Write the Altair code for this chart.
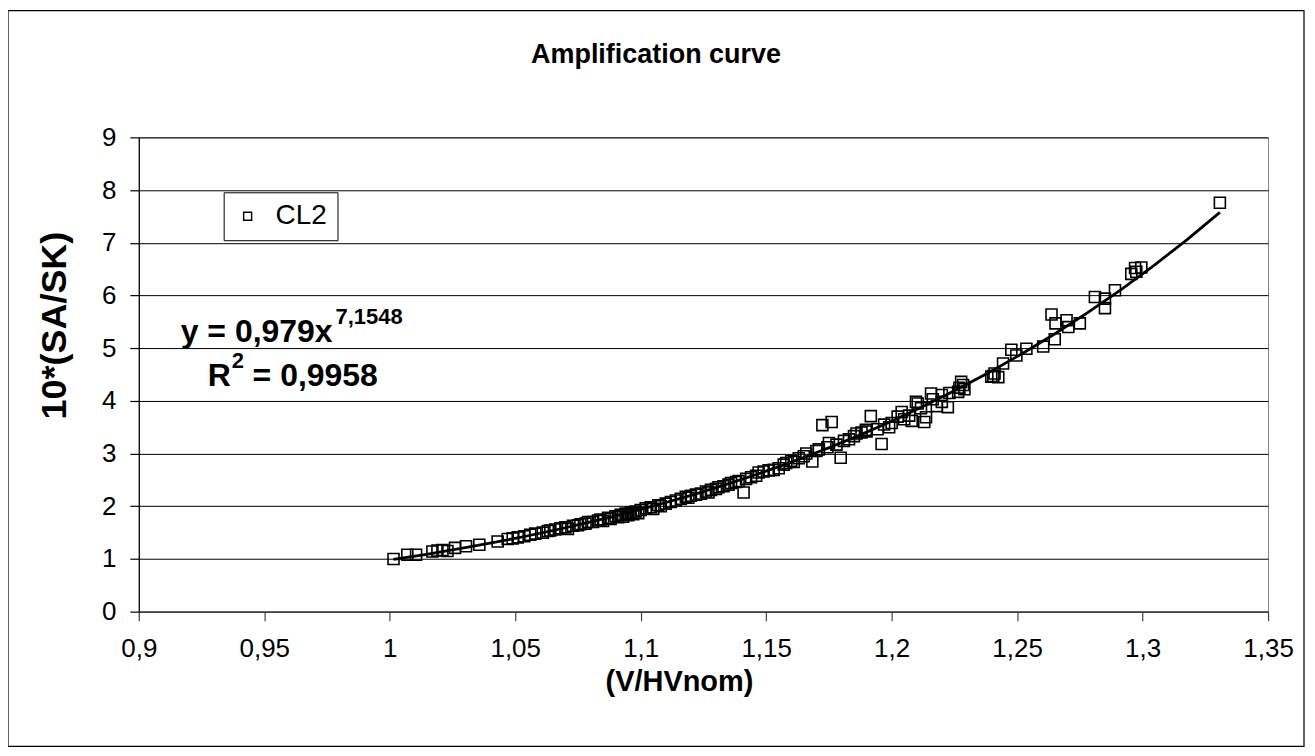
import altair as alt
import pandas as pd

# ---- data ----
vhv = [1.0015, 1.0070, 1.0105, 1.0170, 1.0190, 1.0210, 1.0230, 1.0260, 1.0304, 1.0357,
       1.0430, 1.0470, 1.0490, 1.0510, 1.0536, 1.0560, 1.0580, 1.0610, 1.0630, 1.0640,
       1.0660, 1.0680, 1.0700, 1.0710, 1.0730, 1.0750, 1.0760, 1.0780, 1.0790, 1.0810,
       1.0830, 1.0840, 1.0850, 1.0870, 1.0880, 1.0900, 1.0910, 1.0920, 1.0930, 1.0940,
       1.0950, 1.0960, 1.0970, 1.0980, 1.0990, 1.1000, 1.1020, 1.1040, 1.1050, 1.1070,
       1.1080, 1.1100, 1.1120, 1.1140, 1.1160, 1.1180, 1.1190, 1.1200, 1.1220, 1.1240,
       1.1260, 1.1270, 1.1280, 1.1300, 1.1310, 1.1330, 1.1350, 1.1360, 1.1380, 1.1390,
       1.1410, 1.1420, 1.1440, 1.1460, 1.1470, 1.1490, 1.1510, 1.1530, 1.1550, 1.1570,
       1.1580, 1.1600, 1.1610, 1.1630, 1.1650, 1.1660, 1.1684, 1.1700, 1.1710, 1.1724,
       1.1744, 1.1750, 1.1761, 1.1780, 1.1797, 1.1810, 1.1830, 1.1850, 1.1860, 1.1880,
       1.1897, 1.1900, 1.1917, 1.1944, 1.1960, 1.1970, 1.1990, 1.2000, 1.2024, 1.2040,
       1.2050, 1.2070, 1.2080, 1.2097, 1.2104, 1.2117, 1.2130, 1.2137, 1.2157, 1.2164,
       1.2180, 1.2200, 1.2200, 1.2224, 1.2230, 1.2265, 1.2270, 1.2277, 1.2285, 1.2290,
       1.2397, 1.2405, 1.2410, 1.2425, 1.2444, 1.2477, 1.2497, 1.2537, 1.2604, 1.2637,
       1.2650, 1.2653, 1.2697, 1.2704, 1.2750, 1.2810, 1.2850, 1.2850, 1.2890, 1.2955,
       1.2970, 1.2975, 1.2995, 1.3308]
amp = [1.00, 1.08, 1.08, 1.14, 1.16, 1.17, 1.15, 1.21, 1.24, 1.27,
       1.33, 1.38, 1.39, 1.41, 1.43, 1.46, 1.48, 1.50, 1.53, 1.54,
       1.56, 1.58, 1.60, 1.57, 1.63, 1.64, 1.66, 1.67, 1.70, 1.70,
       1.73, 1.75, 1.72, 1.78, 1.76, 1.81, 1.79, 1.84, 1.80, 1.86,
       1.83, 1.88, 1.85, 1.90, 1.87, 1.93, 1.96, 1.98, 1.95, 2.02,
       2.00, 2.05, 2.08, 2.11, 2.14, 2.18, 2.16, 2.20, 2.22, 2.24,
       2.28, 2.26, 2.31, 2.33, 2.36, 2.38, 2.41, 2.44, 2.46, 2.48,
       2.26, 2.52, 2.55, 2.58, 2.64, 2.66, 2.68, 2.69, 2.72, 2.79,
       2.82, 2.86, 2.84, 2.91, 2.95, 3.00, 2.85, 3.05, 3.08, 3.54,
       3.12, 3.20, 3.60, 3.17, 2.92, 3.24, 3.27, 3.33, 3.38, 3.40,
       3.45, 3.42, 3.71, 3.46, 3.18, 3.55, 3.50, 3.58, 3.70, 3.79,
       3.65, 3.72, 3.62, 3.98, 3.95, 3.86, 3.60, 3.69, 4.14, 4.03,
       3.90, 3.98, 4.11, 3.88, 4.15, 4.17, 4.25, 4.36, 4.30, 4.22,
       4.46, 4.47, 4.52, 4.45, 4.71, 4.97, 4.86, 4.99, 5.03, 5.64,
       5.17, 5.47, 5.53, 5.40, 5.47, 5.97, 5.76, 5.94, 6.10, 6.41,
       6.52, 6.45, 6.53, 7.76]
series_name = "CL2"
x_ticks = [0.9, 0.95, 1.0, 1.05, 1.1, 1.15, 1.2, 1.25, 1.3, 1.35]
y_ticks = [0, 1, 2, 3, 4, 5, 6, 7, 8, 9]
chart_title = "Amplification curve"
x_title = "(V/HVnom)"
y_title = "10*(SA/SK)"
eq_main = "y = 0,979x"
eq_exp = "7,1548"
r2_main = "R"
r2_exp = "2"
r2_rest = "= 0,9958"

df = pd.DataFrame({"vhv": vhv, "amp": amp, "series": [series_name] * len(vhv)})

FONT = "Liberation Sans"
W, H = 1131, 475
comma = "replace(toString(datum.value), '.', ',')"

xs = alt.Scale(domain=[0.9, 1.35], nice=False, zero=False)
ys = alt.Scale(domain=[0, 9], nice=False)

base = alt.Chart(df)

points = base.mark_point(shape="square", filled=False, size=121, strokeWidth=1.6, opacity=1).encode(
    x=alt.X("vhv:Q", scale=xs,
            axis=alt.Axis(values=x_ticks, labelExpr=comma, title=x_title, labelFlush=False,
                          titleX=541, titleY=70, titleAlign="center", titleBaseline="middle",
                          grid=False, domainColor="#404040", domainWidth=1.5,
                          tickColor="#404040", tickWidth=1.2, tickSize=9,
                          labelPadding=15, labelFontSize=26, labelFont=FONT, labelColor="black",
                          titleFontSize=29, titleFont=FONT, titleFontWeight="bold", titleColor="black")),
    y=alt.Y("amp:Q", scale=ys,
            axis=alt.Axis(values=y_ticks, title=y_title, titleX=-84, titleY=188,
                          titleAngle=270, titleAlign="center", titleBaseline="middle",
                          grid=True, gridColor="#000000", gridWidth=1, labelFlush=False,
                          domainColor="black", domainWidth=1.2,
                          tickColor="black", tickWidth=1.2, tickSize=9,
                          labelPadding=14, labelFontSize=26, labelFont=FONT, labelColor="black",
                          titleFontSize=36, titleFont=FONT, titleFontWeight="bold", titleColor="black")),
    color=alt.Color("series:N", scale=alt.Scale(range=["black"]),
                    legend=alt.Legend(title=None, orient="none", legendX=85, legendY=55,
                                      strokeColor="black", fillColor="white", padding=10,
                                      labelFontSize=28, labelFont=FONT, labelColor="black",
                                      labelOffset=14, symbolType="square", symbolSize=64,
                                      symbolStrokeWidth=1.4, symbolFillColor="white",
                                      symbolStrokeColor="black")),
)

trend = base.transform_regression("vhv", "amp", method="pow").mark_line(
    color="black", strokeWidth=2.8).encode(x=alt.X("vhv:Q", scale=xs), y=alt.Y("amp:Q", scale=ys))

one = pd.DataFrame({"k": [0]})
frame = alt.Chart(one).mark_rect(fill=None, stroke="black", strokeWidth=1.2).encode(
    x=alt.value(-131), x2=alt.value(1167), y=alt.value(-127), y2=alt.value(610))

title = alt.Chart(one).mark_text(font=FONT, fontSize=27, fontWeight="bold", color="black",
                                 align="center", baseline="middle").encode(
    x=alt.value(518), y=alt.value(-82), text=alt.value(chart_title))

t_eq = alt.Chart(one).mark_text(font=FONT, fontSize=32, fontWeight="bold", color="black",
                                align="left", baseline="alphabetic").encode(
    x=alt.value(42), y=alt.value(205), text=alt.value(eq_main))
t_eq_exp = alt.Chart(one).mark_text(font=FONT, fontSize=22, fontWeight="bold", color="black",
                                    align="left", baseline="alphabetic").encode(
    x=alt.value(197), y=alt.value(187), text=alt.value(eq_exp))
t_r = alt.Chart(one).mark_text(font=FONT, fontSize=32, fontWeight="bold", color="black",
                               align="left", baseline="alphabetic").encode(
    x=alt.value(69), y=alt.value(249), text=alt.value(r2_main))
t_r_exp = alt.Chart(one).mark_text(font=FONT, fontSize=22, fontWeight="bold", color="black",
                                   align="left", baseline="alphabetic").encode(
    x=alt.value(93), y=alt.value(231), text=alt.value(r2_exp))
t_r_rest = alt.Chart(one).mark_text(font=FONT, fontSize=32, fontWeight="bold", color="black",
                                    align="left", baseline="alphabetic").encode(
    x=alt.value(114), y=alt.value(249), text=alt.value(r2_rest))

chart = alt.layer(frame, points, trend, title, t_eq, t_eq_exp, t_r, t_r_exp, t_r_rest).properties(
    width=W, height=H,
    autosize=alt.AutoSizeParams(type="none"),
    padding={"left": 131, "top": 129, "right": 39, "bottom": 138},
    background="white",
).configure_view(stroke="#808080", strokeWidth=1)

chart.save("out.html", embed_options={"renderer": "svg", "actions": False})
